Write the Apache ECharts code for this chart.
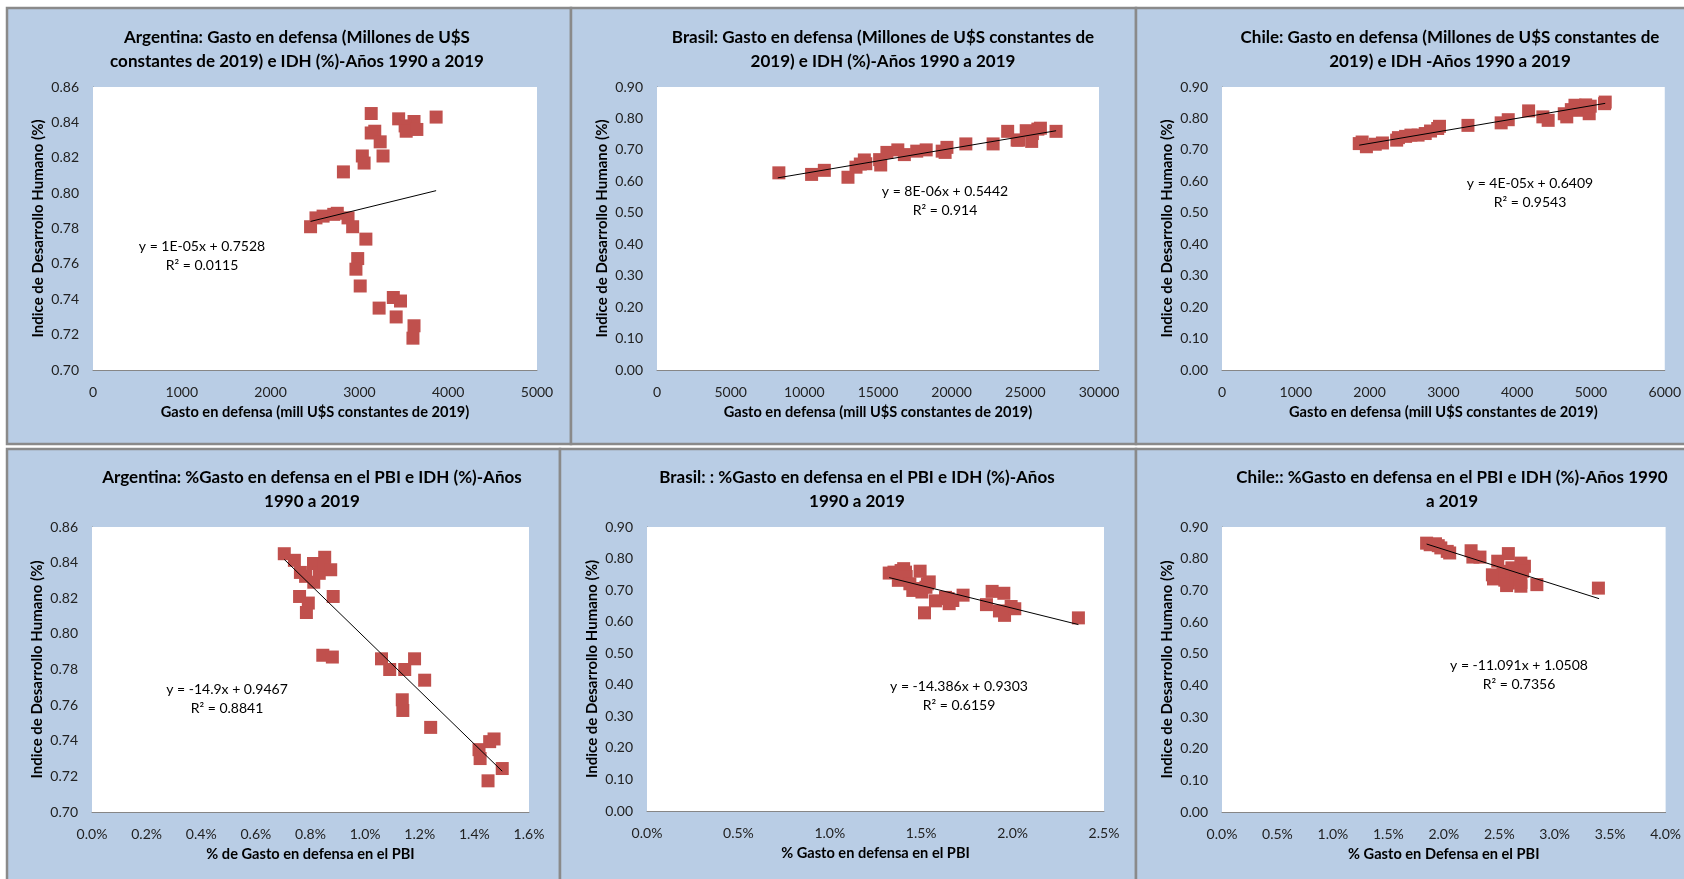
<!DOCTYPE html>
<html>
<head>
<meta charset="utf-8">
<script src="https://cdn.jsdelivr.net/npm/echarts@6/dist/echarts.min.js"></script>
<style>
html,body{margin:0;padding:0;background:#fff;}
#chart{width:1684px;height:879px;}
</style>
</head>
<body>
<div id="chart"></div>
<script>
// ---------------- DATA ----------------
// Panel 1: Argentina gasto (mill U$S 2019) vs IDH
const argGastoX = [3133,3864,3442,3615,3515,3527,3647,3173,3133,3234,3266,3033,3053,2820,2450,2511,2591,2711,2751,2872,2924,3073,2981,2961,3009,3382,3463,3222,3414,3615,3603];
const argGastoY = [0.845,0.843,0.842,0.8405,0.838,0.835,0.836,0.835,0.834,0.829,0.821,0.821,0.817,0.812,0.781,0.786,0.787,0.788,0.7886,0.786,0.781,0.774,0.763,0.757,0.7475,0.741,0.739,0.735,0.730,0.725,0.718];
const argGastoTrendX = [2450, 3864];
const argGastoTrendY = [0.784, 0.8014];

// Panel 2: Brasil gasto vs IDH
const braGastoX = [8271,10493,11357,12962,13506,13800,14073,14172,15110,15184,15604,16345,16789,17629,18270,19357,19555,19678,20962,22813,23801,24443,24542,25060,25431,25480,25850,26023,27086];
const braGastoY = [0.627,0.622,0.635,0.613,0.645,0.655,0.668,0.656,0.669,0.652,0.692,0.700,0.685,0.696,0.700,0.696,0.692,0.708,0.719,0.719,0.759,0.731,0.731,0.761,0.727,0.752,0.766,0.769,0.759];
const braGastoTrendX = [8197, 27086];
const braGastoTrendY = [0.611, 0.7609];

// Panel 3: Chile gasto vs IDH
const chiGastoX = [1860,1899,1957,2077,2174,2367,2391,2488,2560,2657,2754,2826,2923,2947,3333,3783,3879,4155,4348,4420,4638,4672,4734,4783,4831,4928,4976,4990,5193,5184];
const chiGastoY = [0.720,0.725,0.710,0.718,0.722,0.731,0.739,0.743,0.747,0.747,0.752,0.760,0.768,0.775,0.778,0.786,0.796,0.824,0.805,0.794,0.815,0.805,0.828,0.842,0.826,0.843,0.815,0.839,0.852,0.847];
const chiGastoTrendX = [1860, 5193];
const chiGastoTrendY = [0.715, 0.848];

// Panel 4: Argentina %PBI vs IDH
const argPbiX = [0.00704,0.00741,0.00763,0.00782,0.00760,0.00792,0.00785,0.00811,0.00812,0.00832,0.00852,0.00848,0.00874,0.00883,0.00845,0.00880,0.01060,0.01090,0.01145,0.01181,0.01218,0.01136,0.01138,0.01240,0.01417,0.01421,0.01456,0.01472,0.01502,0.01450];
const argPbiY = [0.845,0.8413,0.8345,0.8323,0.821,0.8173,0.812,0.8395,0.829,0.834,0.843,0.8385,0.836,0.821,0.788,0.787,0.786,0.780,0.780,0.786,0.774,0.763,0.757,0.7475,0.735,0.730,0.7395,0.741,0.7244,0.7175];
const argPbiTrendX = [0.00704, 0.01502];
const argPbiTrendY = [0.8418, 0.7229];

// Panel 5: Brasil %PBI vs IDH
const braPbiX = [0.01325,0.01351,0.01375,0.01390,0.01404,0.01414,0.01418,0.01438,0.01454,0.01474,0.01494,0.01504,0.01518,0.01526,0.01534,0.01544,0.01578,0.01633,0.01647,0.01653,0.01673,0.01729,0.01857,0.01888,0.01928,0.01952,0.01956,0.01992,0.02012,0.02360];
const braPbiY = [0.754,0.757,0.731,0.762,0.768,0.757,0.743,0.720,0.699,0.705,0.760,0.694,0.628,0.709,0.720,0.726,0.666,0.677,0.673,0.657,0.667,0.684,0.654,0.696,0.634,0.690,0.620,0.648,0.641,0.612];
const braPbiTrendX = [0.01325, 0.02360];
const braPbiTrendY = [0.7397, 0.5908];

// Panel 6: Chile %PBI vs IDH
const chiPbiX = [0.01845,0.01877,0.01925,0.01950,0.01973,0.02031,0.02053,0.02246,0.02262,0.02326,0.02486,0.02582,0.02448,0.02502,0.02550,0.02582,0.02614,0.02647,0.02695,0.02695,0.02727,0.02711,0.02839,0.03394,0.02534,0.02614,0.02438,0.02566,0.02695];
const chiPbiY = [0.849,0.844,0.847,0.841,0.834,0.823,0.818,0.825,0.805,0.805,0.792,0.816,0.736,0.744,0.732,0.723,0.734,0.749,0.725,0.786,0.776,0.760,0.718,0.707,0.760,0.771,0.749,0.715,0.713];
const chiPbiTrendX = [0.01845, 0.0340];
const chiPbiTrendY = [0.8462, 0.6737];

// Texts
const titles = [
  'Argentina: Gasto en defensa (Millones de U$S\nconstantes de 2019) e IDH (%)-Años 1990 a 2019',
  'Brasil: Gasto en defensa (Millones de U$S constantes de\n2019) e IDH (%)-Años 1990 a 2019',
  'Chile: Gasto en defensa (Millones de U$S constantes de\n2019) e IDH -Años 1990 a 2019',
  'Argentina: %Gasto en defensa en el PBI e IDH (%)-Años\n1990 a 2019',
  'Brasil: : %Gasto en defensa en el PBI e IDH (%)-Años\n1990 a 2019',
  'Chile:: %Gasto en defensa en el PBI e IDH (%)-Años 1990\na 2019'
];
const xNames = [
  'Gasto en defensa (mill U$S constantes de 2019)',
  'Gasto en defensa (mill U$S constantes de 2019)',
  'Gasto en defensa (mill U$S constantes de 2019)',
  '% de Gasto en defensa en el PBI',
  '% Gasto en defensa en el PBI',
  '% Gasto en Defensa en el PBI'
];
const yName = 'Indice de Desarrollo Humano (%)';
const equations = [
  'y = 1E-05x + 0.7528\nR² = 0.0115',
  'y = 8E-06x + 0.5442\nR² = 0.914',
  'y = 4E-05x + 0.6409\nR² = 0.9543',
  'y = -14.9x + 0.9467\nR² = 0.8841',
  'y = -14.386x + 0.9303\nR² = 0.6159',
  'y = -11.091x + 1.0508\nR² = 0.7356'
];

// ---------------- LAYOUT ----------------
const FONT = 'Lato, "Open Sans", sans-serif';
const panelRects = [
  [7, 8, 564, 436], [571, 8, 565, 436], [1136, 8, 560, 436],
  [7, 449, 553, 440], [560, 449, 576, 440], [1136, 449, 560, 440]
];
const grids = [
  {left: 93, top: 87, width: 444, height: 283},
  {left: 657, top: 87, width: 442, height: 283},
  {left: 1222, top: 87, width: 447, height: 283},
  {left: 92, top: 527, width: 437, height: 285},
  {left: 647, top: 527, width: 457, height: 284},
  {left: 1222, top: 527, width: 449, height: 285}
];
const titlePos = [[292, 21], [878, 21], [1445, 21], [307, 461], [852, 461], [1447, 461]];
const eqPos = [[202, 256], [945, 201], [1530, 193], [227, 699], [959, 696], [1519, 675]];
const xAxes = [
  {min: 0, max: 5000, interval: 1000, fmt: v => String(v)},
  {min: 0, max: 30000, interval: 5000, fmt: v => String(v)},
  {min: 0, max: 6000, interval: 1000, fmt: v => String(v)},
  {min: 0, max: 0.016, interval: 0.002, fmt: v => (v * 100).toFixed(1) + '%'},
  {min: 0, max: 0.025, interval: 0.005, fmt: v => (v * 100).toFixed(1) + '%'},
  {min: 0, max: 0.04, interval: 0.005, fmt: v => (v * 100).toFixed(1) + '%'}
];
const yAxes = [
  {min: 0.70, max: 0.86, interval: 0.02},
  {min: 0, max: 0.9, interval: 0.1},
  {min: 0, max: 0.9, interval: 0.1},
  {min: 0.70, max: 0.86, interval: 0.02},
  {min: 0, max: 0.9, interval: 0.1},
  {min: 0, max: 0.9, interval: 0.1}
];
const seriesData = [
  [argGastoX, argGastoY, argGastoTrendX, argGastoTrendY],
  [braGastoX, braGastoY, braGastoTrendX, braGastoTrendY],
  [chiGastoX, chiGastoY, chiGastoTrendX, chiGastoTrendY],
  [argPbiX, argPbiY, argPbiTrendX, argPbiTrendY],
  [braPbiX, braPbiY, braPbiTrendX, braPbiTrendY],
  [chiPbiX, chiPbiY, chiPbiTrendX, chiPbiTrendY]
];

const zip = (a, b) => a.map((v, i) => [v, b[i]]);

const option = {
  animation: false,
  backgroundColor: '#ffffff',
  title: titles.map((t, i) => ({
    text: t, left: titlePos[i][0], top: titlePos[i][1], textAlign: 'center',
    textStyle: {fontFamily: FONT, fontSize: 17, fontWeight: 'bold', color: '#000', lineHeight: 24}
  })),
  grid: grids.map(g => Object.assign({show: true, backgroundColor: '#fff', borderWidth: 0, z: 1}, g)),
  xAxis: xAxes.map((a, i) => ({
    type: 'value', gridIndex: i, min: a.min, max: a.max, interval: a.interval,
    name: xNames[i], nameLocation: 'middle', nameGap: 35,
    nameTextStyle: {fontFamily: FONT, fontSize: 14.6, fontWeight: 'bold', color: '#000'},
    axisLine: {show: true, lineStyle: {color: '#868686', width: 1}},
    axisTick: {show: false}, splitLine: {show: false},
    axisLabel: {formatter: a.fmt, margin: 15, fontFamily: FONT, fontSize: 14, color: '#222'}
  })),
  yAxis: yAxes.map((a, i) => ({
    type: 'value', gridIndex: i, min: a.min, max: a.max, interval: a.interval,
    name: yName, nameLocation: 'middle', nameGap: 47, nameRotate: 90,
    nameTextStyle: {fontFamily: FONT, fontSize: 15, fontWeight: 'bold', color: '#000'},
    axisLine: {show: true, lineStyle: {color: '#868686', width: 1}},
    axisTick: {show: false}, splitLine: {show: false},
    axisLabel: {formatter: v => v.toFixed(2), margin: 14, fontFamily: FONT, fontSize: 14, color: '#222'}
  })),
  series: [],
  graphic: []
};

seriesData.forEach((d, i) => {
  option.series.push({
    type: 'scatter', xAxisIndex: i, yAxisIndex: i, data: zip(d[0], d[1]),
    symbol: 'rect', symbolSize: 13, z: 3,
    itemStyle: {color: '#C0504D', opacity: 1}
  });
  option.series.push({
    type: 'line', xAxisIndex: i, yAxisIndex: i, data: zip(d[2], d[3]),
    showSymbol: false, symbol: 'none', z: 4,
    lineStyle: {color: '#000', width: 1}
  });
});

panelRects.forEach(r => {
  option.graphic.push({
    type: 'rect', z: -10, silent: true,
    shape: {x: r[0], y: r[1], width: r[2], height: r[3]},
    style: {fill: '#B9CDE5', stroke: '#8A8A8A', lineWidth: 2.5}
  });
});
equations.forEach((t, i) => {
  option.graphic.push({
    type: 'text', z: 20, silent: true, x: eqPos[i][0], y: eqPos[i][1],
    style: {text: t, fill: '#000', font: '14px ' + FONT, textAlign: 'center', textVerticalAlign: 'middle', lineHeight: 19}
  });
});

const chart = echarts.init(document.getElementById('chart'), null, {renderer: 'canvas'});
chart.setOption(option);
</script>
</body>
</html>
